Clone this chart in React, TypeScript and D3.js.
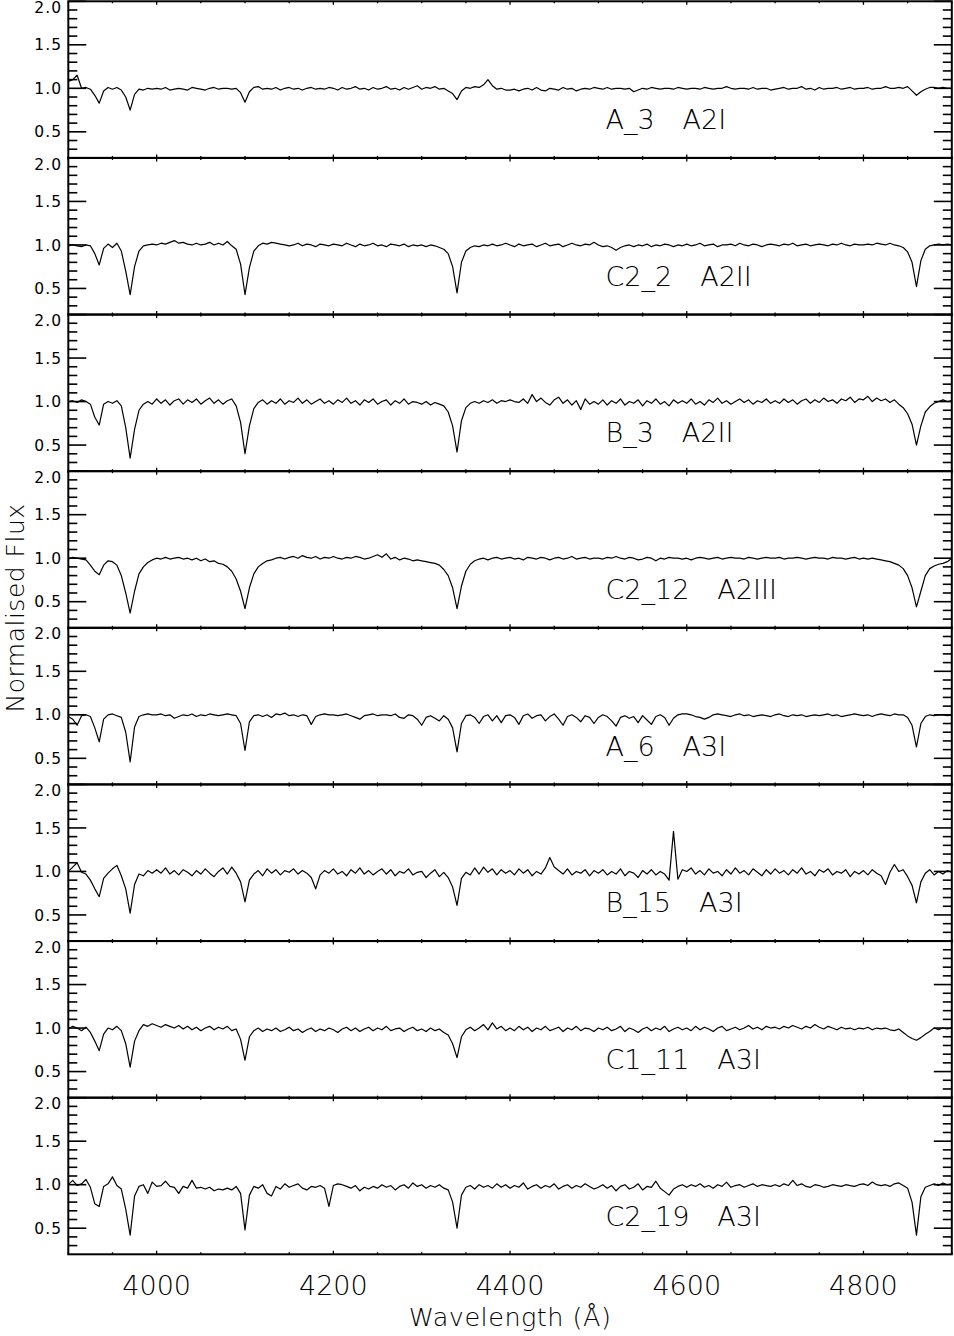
import React from 'react';
import * as d3 from 'd3';

// wavelength grid of the sampled spectra (Angstrom)
const lambdaStart = 3900;
const lambdaStep = 5;

const starNames = ['A_3', 'C2_2', 'B_3', 'C2_12', 'A_6', 'B_15', 'C1_11', 'C2_19'];
const spectralTypes = ['A2I', 'A2II', 'A2II', 'A2III', 'A3I', 'A3I', 'A3I', 'A3I'];

const yTicksMajor = [0.5, 1.0, 1.5, 2.0];
const xTicksMajor = [4000, 4200, 4400, 4600, 4800];

// normalised flux, one value every 5 A from 3900 to 4900
const fluxA3 = [
  1.08, 1.10, 1.15, 1.00, 1.01, 0.99, 0.92, 0.83, 0.97, 1.01, 0.99, 1.01, 0.98, 0.90, 0.75, 0.93, 0.99, 0.98, 1.00, 0.99,
  1.00, 0.99, 1.01, 0.98, 0.99, 1.00, 0.99, 0.98, 1.01, 1.00, 0.99, 0.98, 1.00, 1.01, 0.99, 1.00, 1.00, 0.99, 1.00, 0.95,
  0.84, 0.96, 1.01, 1.02, 0.99, 1.00, 0.99, 1.01, 0.98, 1.00, 1.01, 0.99, 1.00, 0.98, 1.00, 1.01, 0.99, 1.00, 0.99, 1.01,
  1.00, 0.98, 1.01, 0.99, 1.00, 1.02, 0.99, 1.00, 0.98, 1.01, 0.99, 1.00, 1.02, 0.99, 1.00, 0.98, 1.01, 0.99, 1.01, 1.03,
  0.99, 1.01, 1.00, 1.02, 0.99, 1.00, 0.97, 0.94, 0.87, 0.97, 1.01, 1.00, 1.02, 1.01, 1.04, 1.10, 1.03, 0.99, 1.00, 0.98,
  0.98, 0.99, 0.97, 0.99, 1.00, 0.98, 1.01, 0.98, 0.97, 1.00, 0.99, 0.98, 1.01, 0.99, 1.00, 0.97, 0.99, 1.00, 0.99, 1.01,
  1.00, 0.99, 1.01, 0.99, 1.00, 1.00, 0.99, 1.00, 0.96, 0.98, 1.00, 0.99, 1.01, 1.00, 0.99, 1.00, 1.00, 0.99, 1.01, 1.00,
  0.99, 1.00, 1.00, 0.99, 1.01, 1.00, 0.99, 1.00, 1.00, 1.02, 1.00, 0.99, 1.00, 1.00, 0.99, 1.01, 0.99, 1.00, 1.00, 0.98,
  0.99, 1.00, 1.01, 0.99, 1.00, 1.00, 1.02, 0.99, 1.00, 0.98, 1.01, 0.99, 1.00, 1.00, 1.01, 0.99, 1.00, 1.01, 0.99, 1.00,
  1.00, 1.01, 0.99, 1.00, 1.00, 1.02, 1.00, 1.00, 1.01, 1.00, 1.02, 0.97, 0.92, 0.96, 0.99, 1.01, 1.01, 1.00, 1.01, 1.00,
  1.00,
];

const fluxC2_2 = [
  0.99, 1.00, 0.99, 0.98, 1.00, 0.99, 0.90, 0.77, 0.96, 1.01, 0.97, 1.02, 0.93, 0.70, 0.43, 0.75, 0.93, 0.99, 1.00, 1.01,
  1.00, 1.02, 1.01, 1.03, 1.05, 1.02, 1.03, 1.01, 1.00, 1.02, 1.00, 1.01, 1.03, 1.00, 1.02, 1.00, 1.04, 0.99, 0.95, 0.78,
  0.43, 0.74, 0.93, 0.99, 1.02, 1.01, 1.03, 1.02, 1.01, 1.00, 0.99, 1.00, 1.02, 0.99, 1.01, 1.00, 0.98, 1.01, 1.00, 0.99,
  1.01, 1.00, 0.99, 1.02, 1.00, 0.98, 1.01, 0.99, 1.00, 1.02, 0.99, 1.00, 0.98, 1.01, 1.00, 0.99, 1.01, 0.98, 1.00, 0.99,
  1.00, 0.98, 1.00, 0.99, 0.97, 0.95, 0.90, 0.75, 0.45, 0.80, 0.93, 0.97, 0.99, 0.98, 1.00, 0.99, 1.01, 0.99, 1.00, 1.02,
  1.00, 0.98, 1.01, 0.99, 1.00, 1.01, 0.98, 1.00, 1.02, 0.99, 1.00, 1.01, 0.98, 1.00, 1.02, 1.00, 0.99, 1.01, 1.00, 1.03,
  1.00, 0.98, 0.99, 0.97, 0.94, 0.97, 0.99, 1.00, 0.98, 1.00, 0.99, 1.01, 0.98, 1.00, 0.99, 1.01, 1.00, 0.98, 1.00, 0.99,
  1.01, 0.99, 1.00, 1.02, 0.99, 1.00, 1.01, 0.98, 1.00, 1.00, 1.01, 0.99, 1.02, 1.00, 0.99, 1.01, 1.00, 0.98, 1.00, 1.01,
  1.00, 0.99, 1.01, 1.00, 1.02, 0.99, 1.00, 1.01, 0.99, 1.00, 1.01, 1.00, 0.99, 1.01, 1.00, 1.02, 1.00, 0.99, 1.01, 1.00,
  1.00, 1.01, 1.00, 1.02, 1.01, 1.00, 1.02, 1.00, 0.99, 0.97, 0.92, 0.80, 0.52, 0.82, 0.95, 0.99, 1.00, 1.01, 1.00, 1.01,
  1.00,
];

const fluxB3 = [
  1.00, 1.01, 0.99, 1.02, 1.00, 0.97, 0.82, 0.73, 0.97, 1.00, 0.98, 1.01, 0.95, 0.70, 0.35, 0.68, 0.90, 0.97, 1.00, 0.97,
  1.03, 0.98, 1.02, 0.96, 1.01, 1.03, 0.97, 1.02, 0.99, 1.03, 0.97, 1.01, 1.04, 0.98, 1.02, 0.97, 1.01, 1.03, 0.95, 0.76,
  0.40, 0.72, 0.92, 0.99, 1.02, 0.97, 1.01, 0.98, 1.03, 0.97, 1.01, 0.99, 1.04, 0.98, 1.02, 0.97, 1.00, 1.03, 0.98, 1.01,
  0.97, 1.02, 0.99, 1.04, 0.98, 1.01, 0.96, 1.02, 0.99, 1.03, 0.97, 1.00, 1.02, 0.96, 1.01, 0.98, 1.03, 0.97, 1.00, 0.99,
  0.97, 1.00, 0.96, 0.99, 0.97, 0.95, 0.88, 0.72, 0.42, 0.78, 0.93, 0.98, 1.00, 0.98, 1.01, 0.99, 1.02, 0.98, 1.01, 1.00,
  1.02, 1.00, 0.99, 1.03, 0.98, 1.08, 1.00, 1.04, 0.99, 0.96, 1.02, 1.05, 0.98, 1.02, 0.96, 1.01, 0.91, 1.03, 0.97, 1.00,
  0.97, 1.02, 0.96, 1.01, 0.98, 1.03, 0.96, 1.00, 0.98, 1.02, 0.95, 1.01, 0.98, 1.03, 0.97, 1.00, 0.95, 1.02, 0.98, 1.01,
  0.98, 1.03, 0.97, 1.00, 0.96, 1.02, 0.99, 1.04, 0.98, 1.01, 0.97, 1.00, 1.03, 0.99, 1.02, 0.97, 1.01, 0.99, 1.03, 0.98,
  1.01, 0.98, 1.03, 0.99, 1.02, 0.97, 1.01, 1.03, 0.98, 1.02, 0.99, 1.04, 1.00, 1.02, 0.98, 1.03, 1.01, 1.05, 0.99, 1.03,
  1.02, 1.06, 1.00, 1.04, 1.01, 1.03, 0.99, 1.02, 0.97, 0.93, 0.86, 0.74, 0.50, 0.72, 0.88, 0.94, 0.98, 1.00, 1.02, 1.00,
  1.01,
];

const fluxC2_12 = [
  0.99, 1.01, 1.00, 0.99, 0.98, 0.92, 0.85, 0.81, 0.92, 0.97, 0.96, 0.92, 0.80, 0.60, 0.37, 0.62, 0.82, 0.90, 0.95, 0.98,
  1.00, 0.99, 1.01, 0.99, 1.00, 1.01, 0.99, 1.00, 0.98, 1.00, 0.97, 0.99, 0.96, 0.97, 0.94, 0.93, 0.90, 0.85, 0.76, 0.62,
  0.42, 0.66, 0.82, 0.90, 0.94, 0.97, 0.98, 1.00, 1.01, 0.99, 1.01, 1.02, 1.00, 1.03, 1.01, 1.00, 1.02, 0.99, 1.01, 1.00,
  1.02, 1.00, 0.99, 1.01, 1.00, 1.02, 1.01, 0.99, 1.00, 1.02, 1.04, 1.01, 1.05, 0.99, 1.01, 0.98, 1.00, 0.99, 0.97, 0.98,
  0.97, 0.96, 0.95, 0.94, 0.92, 0.87, 0.80, 0.66, 0.42, 0.68, 0.85, 0.93, 0.97, 0.99, 1.00, 0.98, 1.00, 1.01, 0.99, 1.00,
  1.01, 0.99, 1.00, 0.98, 1.01, 1.00, 0.99, 1.01, 1.00, 0.98, 1.00, 1.01, 0.99, 1.00, 1.02, 0.99, 1.00, 1.01, 0.99, 1.00,
  1.00, 0.99, 1.01, 1.00, 1.02, 1.00, 0.99, 1.01, 1.00, 0.98, 0.99, 1.01, 1.00, 0.97, 1.00, 0.99, 1.01, 1.00, 1.00, 0.99,
  1.00, 0.98, 1.00, 1.01, 1.00, 0.99, 1.00, 1.01, 0.99, 1.00, 1.01, 1.00, 1.00, 0.99, 1.01, 1.00, 0.99, 1.00, 1.01, 1.00,
  1.00, 1.01, 0.99, 1.00, 1.00, 1.01, 1.00, 0.99, 1.00, 1.01, 1.00, 1.00, 0.99, 1.01, 1.00, 1.00, 0.99, 1.00, 1.01, 0.99,
  1.00, 0.99, 1.00, 0.99, 0.98, 0.97, 0.96, 0.94, 0.92, 0.88, 0.80, 0.66, 0.44, 0.62, 0.80, 0.88, 0.91, 0.93, 0.94, 0.96,
  1.00,
];

const fluxA6 = [
  0.98, 0.95, 0.88, 0.99, 1.00, 0.98, 0.85, 0.69, 0.95, 1.00, 1.01, 0.99, 0.97, 0.80, 0.46, 0.86, 0.98, 1.00, 1.01, 1.00,
  1.00, 1.01, 0.99, 1.00, 0.96, 0.98, 1.00, 0.99, 1.01, 0.98, 1.00, 0.99, 1.01, 1.00, 0.99, 1.00, 1.01, 1.00, 0.99, 0.90,
  0.59, 0.92, 0.99, 1.00, 0.98, 1.00, 0.97, 1.01, 1.00, 1.02, 0.99, 1.00, 0.98, 1.00, 0.99, 0.89, 0.98, 1.00, 1.01, 1.00,
  1.00, 0.99, 1.00, 1.01, 0.99, 0.97, 0.95, 0.99, 1.00, 1.01, 0.99, 1.00, 1.00, 0.99, 1.01, 0.97, 0.96, 1.00, 0.99, 0.95,
  0.88, 0.97, 0.99, 0.96, 0.93, 0.99, 0.95, 0.85, 0.575, 0.90, 0.99, 1.00, 0.97, 0.90, 0.98, 1.00, 0.93, 0.99, 0.91, 0.99,
  1.00, 0.97, 0.89, 0.99, 1.01, 0.96, 0.99, 1.00, 0.93, 0.98, 1.01, 0.95, 0.88, 0.98, 1.00, 0.97, 0.92, 0.99, 0.97, 0.90,
  0.97, 1.00, 0.98, 0.93, 0.87, 0.97, 0.99, 0.96, 0.98, 0.91, 0.99, 0.94, 0.89, 0.98, 1.00, 0.97, 0.88, 0.96, 1.00, 1.01,
  1.01, 1.00, 0.98, 0.97, 0.95, 0.97, 1.00, 1.01, 1.00, 0.99, 0.98, 1.00, 1.01, 0.99, 1.00, 0.98, 0.99, 1.00, 0.99, 0.98,
  1.00, 1.01, 0.99, 0.98, 1.00, 0.99, 1.00, 0.98, 0.99, 1.00, 0.99, 1.00, 1.01, 0.99, 1.00, 0.98, 0.99, 1.00, 1.01, 1.00,
  0.99, 1.00, 0.98, 1.00, 1.01, 1.00, 0.99, 1.01, 1.00, 1.00, 0.97, 0.88, 0.63, 0.90, 0.98, 1.00, 0.99, 1.00, 1.00, 0.99,
  1.00,
];

const fluxB15 = [
  1.00, 1.05, 1.10, 0.99, 0.97, 0.90, 0.80, 0.71, 0.92, 0.98, 1.03, 1.07, 0.95, 0.80, 0.52, 0.85, 0.97, 0.95, 1.01, 0.98,
  1.02, 0.98, 1.04, 0.97, 1.01, 0.96, 1.02, 0.99, 0.95, 1.01, 0.97, 1.03, 0.98, 0.94, 1.00, 1.04, 0.97, 1.05, 0.98, 0.88,
  0.65, 0.90, 0.97, 1.01, 0.95, 1.03, 0.98, 1.02, 0.96, 1.01, 0.99, 1.03, 0.97, 1.01, 0.98, 0.93, 0.80, 0.96, 1.01, 0.98,
  1.03, 0.97, 1.00, 0.95, 1.02, 0.98, 1.04, 0.97, 1.01, 0.96, 1.00, 1.03, 0.97, 1.02, 0.95, 1.00, 0.98, 1.03, 0.96, 0.99,
  1.00, 0.93, 0.98, 1.02, 0.94, 0.99, 0.93, 0.82, 0.61, 0.92, 0.99, 0.96, 1.04, 0.97, 1.05, 0.99, 1.03, 0.96, 1.02, 0.98,
  1.01, 0.96, 1.03, 0.98, 1.02, 0.95, 1.00, 0.97, 1.04, 1.16, 1.05, 1.01, 0.97, 1.03, 0.96, 1.00, 0.98, 1.02, 0.95, 1.01,
  0.98, 1.02, 0.96, 1.00, 0.97, 1.03, 0.95, 1.00, 0.98, 0.93, 1.01, 0.97, 1.02, 0.96, 1.00, 0.97, 0.90, 1.46, 0.91, 1.02,
  1.00, 1.04, 0.97, 1.01, 0.96, 1.03, 0.98, 1.00, 0.95, 1.02, 0.97, 1.04, 0.98, 1.01, 0.96, 1.03, 0.99, 0.95, 1.02, 0.97,
  1.03, 0.98, 1.01, 0.96, 1.02, 0.98, 1.04, 0.97, 1.00, 0.95, 1.02, 0.99, 1.03, 0.96, 1.00, 0.98, 1.02, 0.94, 1.00, 0.97,
  1.01, 0.96, 1.02, 0.98, 0.95, 0.85, 0.99, 1.08, 1.00, 1.02, 0.94, 0.84, 0.64, 0.88, 0.98, 1.02, 0.96, 1.00, 0.97, 1.01,
  0.99,
];

const fluxC1_11 = [
  0.99, 1.02, 1.00, 0.97, 1.01, 0.95, 0.85, 0.74, 0.93, 1.00, 0.98, 1.02, 0.97, 0.82, 0.55, 0.85, 0.97, 1.04, 1.02, 1.05,
  1.03, 1.01, 1.04, 1.02, 1.00, 1.03, 0.99, 1.02, 0.98, 1.01, 0.97, 1.00, 1.02, 0.98, 1.01, 0.99, 1.02, 0.97, 0.99, 0.87,
  0.63, 0.90, 0.97, 1.00, 0.96, 0.99, 0.97, 1.00, 0.96, 0.98, 1.01, 0.97, 0.99, 0.95, 0.98, 1.00, 0.96, 0.99, 0.97, 1.00,
  0.98, 0.95, 0.99, 1.01, 0.97, 1.00, 0.96, 0.99, 1.01, 0.97, 1.00, 0.98, 1.02, 0.97, 0.99, 1.00, 0.96, 0.99, 1.01, 0.97,
  0.99, 0.96, 1.00, 0.97, 0.99, 0.95, 0.92, 0.82, 0.66, 0.90, 0.98, 1.01, 0.97, 1.00, 1.04, 0.98, 1.06, 0.99, 1.02, 0.97,
  1.00, 0.97, 1.02, 0.98, 1.01, 0.96, 1.00, 0.98, 1.02, 0.97, 0.99, 1.01, 0.96, 1.00, 0.98, 1.02, 0.97, 1.00, 0.99, 0.96,
  1.00, 0.98, 1.01, 0.97, 0.99, 1.02, 0.96, 1.00, 0.98, 0.95, 0.99, 1.01, 0.97, 1.00, 0.98, 1.02, 0.96, 0.99, 1.01, 0.98,
  1.00, 0.97, 1.02, 0.98, 1.01, 0.99, 0.96, 1.00, 1.02, 0.97, 0.99, 1.01, 0.98, 1.00, 1.03, 0.99, 1.01, 0.98, 1.02, 1.00,
  1.01, 0.99, 1.02, 1.00, 1.03, 1.01, 0.99, 1.02, 1.00, 1.04, 1.01, 0.99, 1.02, 1.00, 0.98, 1.01, 0.99, 1.00, 0.98, 1.00,
  0.99, 1.01, 0.98, 1.00, 0.99, 1.00, 0.98, 0.97, 0.99, 0.95, 0.91, 0.88, 0.86, 0.89, 0.93, 0.96, 1.00, 0.98, 1.00, 0.99,
  1.00,
];

const fluxC2_19 = [
  1.00, 1.05, 0.99, 1.01, 1.06, 0.97, 0.78, 0.75, 0.98, 1.01, 1.09, 0.99, 0.95, 0.72, 0.42, 0.87, 0.98, 1.00, 0.90, 1.03,
  0.98, 0.99, 1.04, 0.98, 0.97, 0.90, 0.98, 0.96, 1.05, 0.96, 0.97, 0.95, 0.97, 0.93, 0.95, 0.94, 0.96, 0.94, 0.98, 0.90,
  0.48, 0.88, 0.98, 0.96, 1.00, 0.90, 0.87, 0.98, 0.95, 1.01, 0.97, 0.99, 1.01, 0.96, 0.94, 0.98, 0.97, 0.99, 0.96, 0.75,
  0.99, 1.01, 1.00, 0.98, 0.96, 0.99, 0.93, 0.97, 0.95, 0.98, 0.96, 1.00, 0.97, 0.99, 0.94, 0.98, 1.00, 0.96, 1.02, 0.98,
  1.00, 0.96, 0.99, 0.97, 1.00, 0.96, 0.94, 0.80, 0.50, 0.88, 0.97, 0.99, 0.95, 1.00, 0.97, 0.99, 0.96, 1.01, 0.97, 1.00,
  0.96, 0.99, 0.97, 1.02, 0.95, 0.98, 1.00, 0.96, 0.99, 0.97, 1.01, 0.95, 0.98, 1.00, 0.96, 0.99, 0.97, 1.01, 0.98, 0.95,
  0.97, 1.00, 0.96, 0.99, 0.93, 0.98, 1.00, 0.95, 0.97, 1.01, 0.94, 0.98, 0.97, 1.04, 0.96, 0.92, 0.88, 0.95, 0.98, 1.00,
  0.97, 1.00, 0.98, 1.01, 0.97, 0.99, 0.96, 1.00, 0.98, 1.03, 0.97, 0.99, 1.00, 0.97, 0.99, 1.01, 0.98, 1.00, 0.99, 0.98,
  1.00, 0.98, 1.01, 0.99, 1.05, 0.99, 1.01, 0.98, 0.97, 1.00, 0.99, 0.97, 0.98, 1.00, 0.99, 0.98, 1.00, 0.99, 0.98, 1.00,
  1.01, 0.99, 1.03, 1.00, 0.99, 1.00, 0.98, 1.01, 1.02, 0.99, 0.96, 0.80, 0.42, 0.86, 0.97, 0.99, 1.01, 0.99, 1.02, 1.00,
  1.01,
];

const spectra = [fluxA3, fluxC2_2, fluxB3, fluxC2_12, fluxA6, fluxB15, fluxC1_11, fluxC2_19];

const W = 954;
const H = 1336;
const plotLeft = 68.3;
const plotRight = 951.8;
const plotTop = 1.3;
const plotBottom = 1254.3;
const font = 'DejaVu Sans, sans-serif';

const App = () => {
  const nPanels = spectra.length;
  const panelH = (plotBottom - plotTop) / nPanels;

  const x = d3.scaleLinear().domain([3900, 4900]).range([plotLeft, plotRight]);
  const xMinor = d3.range(3900, 4901, 50);
  const yMinorVals = d3.range(0.3, 2.001, 0.1);

  const panels = spectra.map((flux, i) => {
    const top = plotTop + i * panelH;
    const y = d3.scaleLinear().domain([0.2, 2.0]).range([top + panelH, top]);
    const line = d3.line<number>()
      .x((_, j) => x(lambdaStart + j * lambdaStep))
      .y(d => y(d));
    return (
      <g key={i}>
        <defs>
          <clipPath id={`clip${i}`}>
            <rect x={plotLeft} y={top} width={plotRight - plotLeft} height={panelH} />
          </clipPath>
        </defs>
        <path d={line(flux) || ''} fill="none" stroke="#000" strokeWidth={1.2}
          strokeLinejoin="round" clipPath={`url(#clip${i})`} />
        {/* y ticks, left and right */}
        {yMinorVals.map(v => {
          const major = yTicksMajor.some(m => Math.abs(m - v) < 1e-6);
          const len = major ? 18 : 9;
          return (
            <g key={v.toFixed(1)} stroke="#000" strokeWidth={1.6}>
              <line x1={plotLeft} x2={plotLeft + len} y1={y(v)} y2={y(v)} />
              <line x1={plotRight} x2={plotRight - len} y1={y(v)} y2={y(v)} />
            </g>
          );
        })}
        {yTicksMajor.map(v => (
          <text key={v} x={62} y={y(v) + (v === 2.0 ? 6 : 0)} dy="0.36em" textAnchor="end"
            fontFamily={font} fontSize={15.5} letterSpacing={1}>{v.toFixed(1)}</text>
        ))}
        {/* x ticks on top and bottom of the panel */}
        {xMinor.map(v => {
          const len = xTicksMajor.includes(v) ? 3.5 : 2;
          return (
            <g key={v} stroke="#000" strokeWidth={1.3}>
              <line x1={x(v)} x2={x(v)} y1={top} y2={top + len} />
              <line x1={x(v)} x2={x(v)} y1={top + panelH} y2={top + panelH - len} />
            </g>
          );
        })}
        <rect x={plotLeft} y={top} width={plotRight - plotLeft} height={panelH}
          fill="none" stroke="#000" strokeWidth={2} />
        <text x={x(4508)} y={y(0.53)} fontFamily={font} fontSize={27} fontWeight={200}>
          {starNames[i]}
          <tspan dx={28}>{spectralTypes[i]}</tspan>
        </text>
      </g>
    );
  });

  return (
    <svg width={W} height={H} style={{ position: 'absolute', left: 0, top: 0, background: '#fff' }}>
      <rect width={W} height={H} fill="#fff" />
      {panels}
      {xTicksMajor.map(v => (
        <text key={v} x={x(v)} y={1295} textAnchor="middle" fontFamily={font}
          fontSize={27} fontWeight={200}>{v}</text>
      ))}
      <text x={(plotLeft + plotRight) / 2} y={1326} textAnchor="middle" fontFamily={font}
        fontSize={25.5} fontWeight={200} letterSpacing={0.5}>Wavelength (Å)</text>
      <text transform={`translate(24,${608}) rotate(-90)`} textAnchor="middle" fontFamily={font}
        fontSize={25} fontWeight={200} letterSpacing={0.5}>Normalised Flux</text>
    </svg>
  );
};

export default App;
